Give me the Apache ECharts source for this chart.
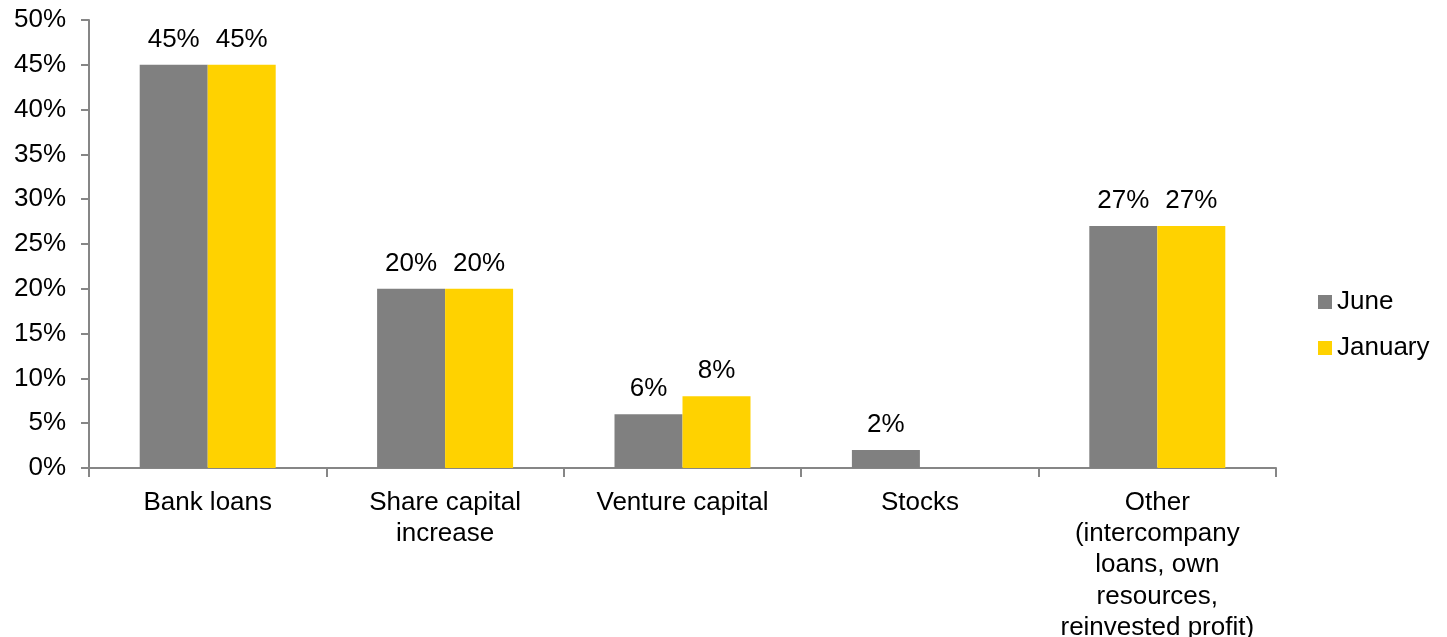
<!DOCTYPE html>
<html>
<head>
<meta charset="utf-8">
<script src="https://cdn.jsdelivr.net/npm/echarts@6/dist/echarts.min.js"></script>
<style>
  html, body { margin: 0; padding: 0; background: #fff; }
  #chart { width: 1447px; height: 637px; }
</style>
</head>
<body>
<div id="chart"></div>
<script>
// Sources of financing, share of respondents (%)
const categories = [
  'Bank loans',
  'Share capital\nincrease',
  'Venture capital',
  'Stocks',
  'Other\n(intercompany\nloans, own\nresources,\nreinvested profit)'
];
const juneValues = [45, 20, 6, 2, 27];
const januaryValues = [45, 20, 8, null, 27];
const seriesNames = ['June', 'January'];

const font = 'Liberation Sans, Arial, sans-serif';
const chart = echarts.init(document.getElementById('chart'), null, { renderer: 'canvas' });

const barLabel = {
  show: true,
  position: 'top',
  distance: 12,
  formatter: p => p.value + '%',
  color: '#000',
  fontSize: 26,
  fontFamily: font
};

chart.setOption({
  animation: false,
  backgroundColor: '#fff',
  grid: {
    left: 89, right: 171, top: 20, bottom: 169,
    containLabel: false,
    outerBoundsMode: 'none'
  },
  legend: {
    orient: 'vertical',
    left: 1318,
    top: 289,
    padding: 0,
    itemWidth: 14,
    itemHeight: 14,
    itemGap: 20,
    icon: 'rect',
    textStyle: { color: '#000', fontSize: 26, fontFamily: font },
    data: seriesNames
  },
  xAxis: {
    type: 'category',
    data: categories,
    axisLine: { lineStyle: { color: '#868686', width: 2 } },
    axisTick: { show: true, length: 9, lineStyle: { color: '#868686', width: 2 } },
    axisLabel: {
      color: '#000', fontSize: 26, fontFamily: font, lineHeight: 31.3,
      margin: 19, interval: 0
    }
  },
  yAxis: {
    type: 'value',
    min: 0,
    max: 50,
    interval: 5,
    splitLine: { show: false },
    axisLine: { show: true, lineStyle: { color: '#868686', width: 2 } },
    axisTick: { show: true, length: 8, lineStyle: { color: '#868686', width: 2 } },
    axisLabel: {
      color: '#000', fontSize: 26, fontFamily: font, margin: 23,
      formatter: v => v + '%'
    }
  },
  series: [
    {
      name: seriesNames[0],
      type: 'bar',
      data: juneValues,
      barWidth: 68,
      barGap: '0%',
      itemStyle: { color: '#808080' },
      label: barLabel
    },
    {
      name: seriesNames[1],
      type: 'bar',
      data: januaryValues,
      barWidth: 68,
      barGap: '0%',
      itemStyle: { color: '#FFD200' },
      label: barLabel
    }
  ]
});
</script>
</body>
</html>
